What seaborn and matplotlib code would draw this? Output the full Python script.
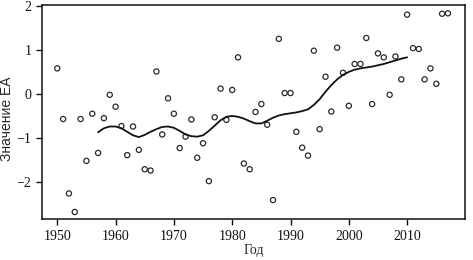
"""
EA index by year: yearly values (open circles) and smoothed curve
"""
import matplotlib
matplotlib.use('Agg')
import matplotlib.pyplot as plt
import seaborn as sns
import pandas as pd

years = list(range(1950, 2018))
ea_values = [
    0.58, -0.57, -2.26, -2.68, -0.57, -1.52, -0.45, -1.34, -0.55, -0.02,
    -0.29, -0.73, -1.39, -0.74, -1.27, -1.71, -1.74, 0.51, -0.92, -0.10,
    -0.45, -1.23, -0.97, -0.58, -1.45, -1.12, -1.98, -0.53, 0.12, -0.59,
    0.09, 0.83, -1.58, -1.71, -0.41, -0.23, -0.70, -2.41, 1.25, 0.02,
    0.02, -0.86, -1.22, -1.40, 0.98, -0.80, 0.39, -0.40, 1.05, 0.48,
    -0.27, 0.68, 0.68, 1.27, -0.23, 0.92, 0.83, -0.02, 0.85, 0.33,
    1.80, 1.04, 1.02, 0.33, 0.58, 0.23, 1.82, 1.83,
]

smooth_years = list(range(1957, 2011))
smooth_values = [
    -0.87, -0.78, -0.74, -0.74, -0.78, -0.86, -0.94, -0.98, -0.93, -0.86,
    -0.80, -0.75, -0.74, -0.77, -0.84, -0.92, -0.96, -0.97, -0.94, -0.84,
    -0.72, -0.60, -0.52, -0.50, -0.52, -0.56, -0.62, -0.67, -0.67, -0.61,
    -0.54, -0.49, -0.46, -0.44, -0.42, -0.39, -0.35, -0.25, -0.12, 0.05,
    0.20, 0.33, 0.43, 0.50, 0.55, 0.58, 0.60, 0.62, 0.65, 0.68,
    0.72, 0.76, 0.80, 0.83,
]

x_ticks = [1950, 1960, 1970, 1980, 1990, 2000, 2010]
y_ticks = [-2, -1, 0, 1, 2]

df = pd.DataFrame({'year': years, 'ea': ea_values})
df_smooth = pd.DataFrame({'year': smooth_years, 'ea': smooth_values})

sns.set_style('ticks')
plt.rcParams['font.family'] = ['Liberation Serif', 'DejaVu Serif']

fig = plt.figure(figsize=(4.73, 2.6), dpi=100)
ax = fig.add_axes([0.089, 0.156, 0.895, 0.825])

sns.scatterplot(data=df, x='year', y='ea', ax=ax, marker='o', s=14,
                facecolor='none', edgecolor='#2a2a2a', linewidth=0.9)
sns.lineplot(data=df_smooth, x='year', y='ea', ax=ax, color='#111111', linewidth=1.3)

ax.set_xlim(1947.4, 2020)
ax.set_ylim(-2.85, 2.02)
ax.set_xticks(x_ticks)
ax.set_yticks(y_ticks)
ax.tick_params(labelsize=10, length=4, width=1, colors='#111111')
for side in ['top', 'right', 'left', 'bottom']:
    ax.spines[side].set_visible(True)
    ax.spines[side].set_linewidth(1.1)
    ax.spines[side].set_color('#111111')
ax.set_xlabel('Год', fontsize=10, labelpad=1)
ax.set_ylabel('Значение ЕА', fontsize=10, family=['Liberation Sans', 'DejaVu Sans'])
ax.yaxis.set_label_coords(-0.066, 0.47)

fig.savefig('out.png', dpi=100)
